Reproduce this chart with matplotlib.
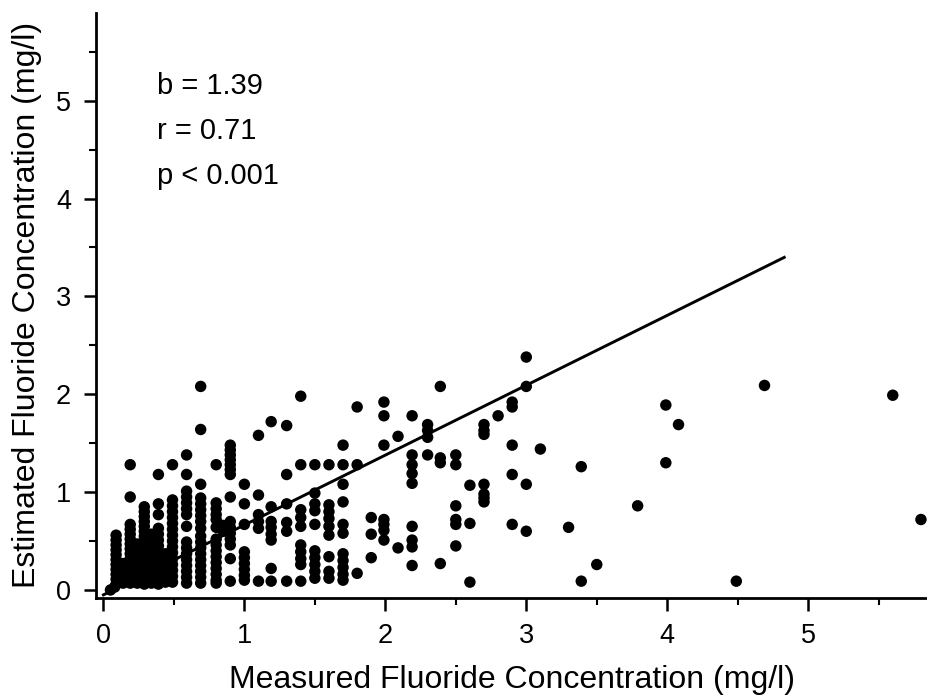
import matplotlib
matplotlib.use("Agg")
import matplotlib.pyplot as plt
from matplotlib.ticker import MultipleLocator

plt.rcParams['font.family'] = ['Liberation Sans', 'DejaVu Sans']

# measured value of each column of dots, and the estimated values stacked in it (mg/l)
col_x = [0.05, 0.08, 0.09, 0.14, 0.19, 0.24, 0.29, 0.34, 0.39, 0.44, 0.49, 0.59,
         0.69, 0.80, 0.85, 0.90, 1.00, 1.10, 1.19, 1.30, 1.40, 1.50, 1.60, 1.70,
         1.80, 1.90, 1.99, 2.09, 2.19, 2.30, 2.39, 2.50, 2.60, 2.70, 2.80, 2.90,
         3.00, 3.10, 3.30, 3.39, 3.50, 3.79, 3.99, 4.08, 4.49, 4.69, 5.60, 5.80]
col_y = [
    [0.00],
    [0.03],
    [0.56, 0.51, 0.46, 0.41, 0.36, 0.31, 0.26, 0.21, 0.16, 0.11, 0.06],
    [0.27, 0.22, 0.17, 0.12, 0.07],
    [1.28, 0.95, 0.67, 0.62, 0.57, 0.52, 0.47, 0.42, 0.37, 0.32, 0.27, 0.22, 0.17, 0.12, 0.07],
    [0.47, 0.42, 0.37, 0.32, 0.27, 0.22, 0.17, 0.12, 0.07],
    [0.85, 0.80, 0.75, 0.70, 0.65, 0.60, 0.55, 0.50, 0.45, 0.40, 0.35, 0.30, 0.25, 0.20, 0.15, 0.10, 0.06],
    [0.57, 0.47, 0.37, 0.27, 0.17, 0.07],
    [1.18, 0.88, 0.77, 0.63, 0.57, 0.51, 0.45, 0.39, 0.33, 0.27, 0.21, 0.15, 0.09, 0.06],
    [0.37, 0.27, 0.17, 0.08],
    [1.28, 0.92, 0.86, 0.80, 0.74, 0.68, 0.62, 0.56, 0.50, 0.44, 0.38, 0.32, 0.26, 0.20, 0.14, 0.08],
    [1.38, 1.18, 1.01, 0.95, 0.89, 0.83, 0.77, 0.65, 0.49, 0.43, 0.37, 0.31, 0.25, 0.19, 0.13, 0.07],
    [2.08, 1.64, 1.08, 0.94, 0.88, 0.82, 0.76, 0.70, 0.63, 0.55, 0.49, 0.43, 0.37, 0.31, 0.25, 0.19, 0.13, 0.07],
    [1.28, 0.89, 0.83, 0.77, 0.72, 0.64, 0.52, 0.46, 0.40, 0.34, 0.28, 0.22, 0.16, 0.10, 0.07],
    [0.66, 0.60],
    [1.48, 1.43, 1.38, 1.33, 1.28, 1.23, 1.18, 0.95, 0.70, 0.64, 0.58, 0.52, 0.46, 0.32, 0.09],
    [1.08, 0.88, 0.67, 0.39, 0.33, 0.27, 0.21, 0.15, 0.10],
    [1.58, 0.97, 0.77, 0.70, 0.63, 0.09],
    [1.72, 0.85, 0.70, 0.64, 0.57, 0.51, 0.22, 0.09],
    [1.68, 1.18, 0.88, 0.69, 0.60, 0.09],
    [1.98, 1.28, 0.82, 0.74, 0.65, 0.46, 0.39, 0.32, 0.26, 0.09],
    [1.28, 0.99, 0.88, 0.81, 0.67, 0.40, 0.33, 0.26, 0.19, 0.12],
    [1.28, 0.87, 0.80, 0.73, 0.65, 0.56, 0.34, 0.19, 0.12],
    [1.48, 1.28, 1.08, 0.90, 0.67, 0.58, 0.37, 0.30, 0.23, 0.16, 0.10],
    [1.87, 1.28, 0.17],
    [0.74, 0.57, 0.33],
    [1.92, 1.78, 1.48, 0.72, 0.67, 0.61, 0.51],
    [1.57, 0.43],
    [1.78, 1.38, 1.28, 1.19, 1.09, 0.65, 0.51, 0.44, 0.25],
    [1.69, 1.63, 1.56, 1.38],
    [2.08, 1.35, 1.30, 0.27],
    [1.38, 1.28, 0.86, 0.72, 0.67, 0.45],
    [1.07, 0.68, 0.08],
    [1.69, 1.63, 1.59, 1.08, 0.98, 0.94, 0.90],
    [1.78],
    [1.92, 1.87, 1.48, 1.18, 0.67],
    [2.38, 2.08, 1.08, 0.60],
    [1.44],
    [0.64],
    [1.26, 0.09],
    [0.26],
    [0.86],
    [1.89, 1.30],
    [1.69],
    [0.09],
    [2.09],
    [1.99],
    [0.72],
]

# regression line
fit_intercept = -0.05
fit_slope = 0.714
fit_range = [0.0, 4.83]

stats_lines = ["b = 1.39", "r = 0.71", "p < 0.001"]

measured = []
estimated = []
for x, ys in zip(col_x, col_y):
    for y in ys:
        measured.append(x)
        estimated.append(y)

fig = plt.figure(figsize=(9.28, 7.0), dpi=100)
ax = fig.add_axes([0.1034, 0.146, 0.8966, 0.836])

ax.scatter(measured, estimated, s=68, color='black', edgecolors='none', zorder=3)
fit_y = [fit_intercept + fit_slope * x for x in fit_range]
ax.plot(fit_range, fit_y, color='black', lw=2.1, zorder=2)

ax.set_xlim(-0.053, 5.85)
ax.set_ylim(-0.08, 5.90)
ax.xaxis.set_major_locator(MultipleLocator(1))
ax.xaxis.set_minor_locator(MultipleLocator(0.5))
ax.yaxis.set_major_locator(MultipleLocator(1))
ax.yaxis.set_minor_locator(MultipleLocator(0.5))

for side in ['top', 'right']:
    ax.spines[side].set_visible(False)
for side in ['left', 'bottom']:
    ax.spines[side].set_linewidth(2.0)

ax.tick_params(which='major', direction='out', length=9, width=1.8, labelsize=19.5, pad=9)
ax.tick_params(which='minor', direction='out', length=5, width=1.5)
ax.tick_params(axis='x', which='major', pad=9)

ax.set_xlabel("Measured Fluoride Concentration (mg/l)", fontsize=23, labelpad=12)
ax.set_ylabel("Estimated Fluoride Concentration (mg/l)", fontsize=23, labelpad=10)

for i, line in enumerate(stats_lines):
    ax.text(0.38, 5.07 - 0.46 * i, line, fontsize=21, ha='left', va='baseline')

fig.savefig("out.png", dpi=100)
